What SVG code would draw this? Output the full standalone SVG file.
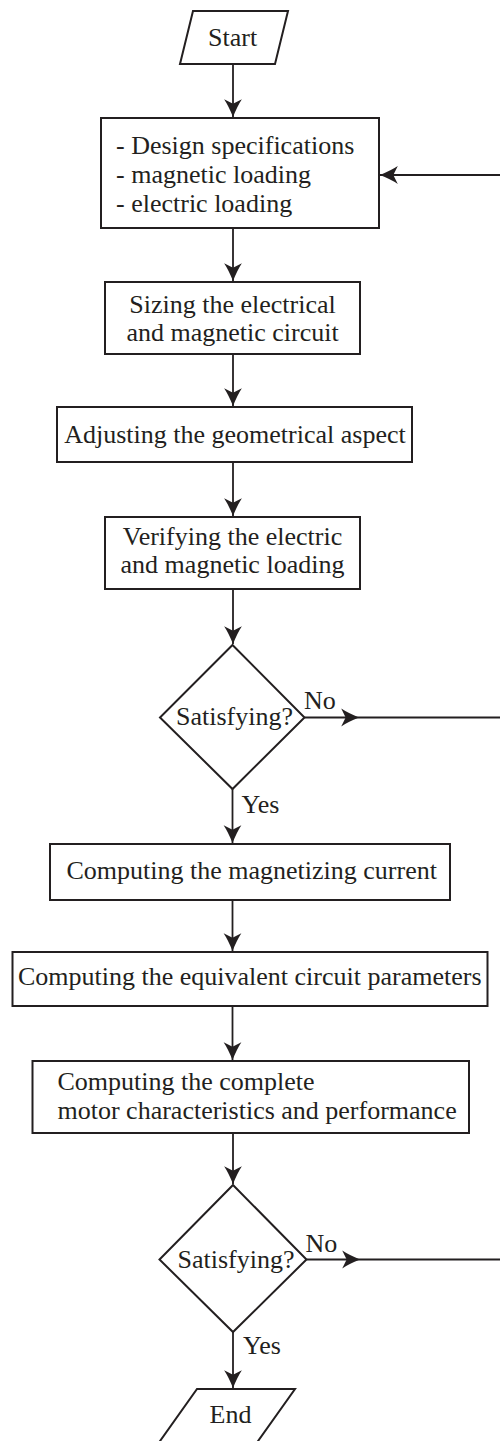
<svg xmlns="http://www.w3.org/2000/svg" width="500" height="1441" viewBox="0 0 500 1441">
<defs>
<style>
.sh{fill:#fff;stroke:#231f20;stroke-width:2}
.ln{fill:none;stroke:#231f20;stroke-width:1.8}
.t{font-family:"Liberation Serif","Times New Roman",serif;font-size:26px;fill:#231f20}
.c{text-anchor:middle}
</style>
<marker id="ah" markerUnits="userSpaceOnUse" markerWidth="20" markerHeight="20" viewBox="0 -9 17 18" refX="16" refY="0" orient="auto">
<path d="M0,-8 Q6,-4 16,0 Q6,4 0,8 L4,0 Z" fill="#231f20"/>
</marker>
</defs>
<rect width="500" height="1441" fill="#fff"/>
<g id="connectors">
<path class="ln" d="M233,64 V117" marker-end="url(#ah)"/>
<path class="ln" d="M233,228 V281" marker-end="url(#ah)"/>
<path class="ln" d="M233,354 V406" marker-end="url(#ah)"/>
<path class="ln" d="M233,462 V516" marker-end="url(#ah)"/>
<path class="ln" d="M233,589 V644" marker-end="url(#ah)"/>
<path class="ln" d="M232.5,789 V843" marker-end="url(#ah)"/>
<path class="ln" d="M304.5,717.5 H359" marker-end="url(#ah)"/>
<path class="ln" d="M359,717.5 H500"/>
<path class="ln" d="M500,175 H380" marker-end="url(#ah)"/>
<path class="ln" d="M232.5,900 V951" marker-end="url(#ah)"/>
<path class="ln" d="M232.5,1006 V1060" marker-end="url(#ah)"/>
<path class="ln" d="M233,1133 V1184" marker-end="url(#ah)"/>
<path class="ln" d="M306.5,1259.5 H360" marker-end="url(#ah)"/>
<path class="ln" d="M360,1259.5 H500"/>
<path class="ln" d="M233,1332 V1388" marker-end="url(#ah)"/>
</g>
<g id="start">
<polygon class="sh" points="193,11 288,11 275,64 180,64"/>
<text class="t" x="208" y="45.5">Start</text>
</g>
<g id="specs">
<rect class="sh" x="101" y="118" width="278" height="110"/>
<text class="t" x="116" y="154">- Design specifications</text>
<text class="t" x="116" y="183">- magnetic loading</text>
<text class="t" x="116" y="212">- electric loading</text>
</g>
<g id="sizing">
<rect class="sh" x="105" y="282" width="255" height="72"/>
<text class="t c" x="232.5" y="313">Sizing the electrical</text>
<text class="t c" x="232.5" y="341">and magnetic circuit</text>
</g>
<g id="adjust">
<rect class="sh" x="57" y="407" width="355" height="55"/>
<text class="t c" x="235" y="442.5">Adjusting the geometrical aspect</text>
</g>
<g id="verify">
<rect class="sh" x="105" y="517" width="255" height="72"/>
<text class="t c" x="232.5" y="545">Verifying the electric</text>
<text class="t c" x="232.5" y="573">and magnetic loading</text>
</g>
<g id="decision1">
<polygon class="sh" points="232.5,645 304.5,717.5 232.5,789 160,717.5"/>
<text class="t" x="176" y="725">Satisfying?</text>
<text class="t" x="304" y="709">No</text>
<text class="t" x="241.5" y="812.5">Yes</text>
</g>
<g id="magnetizing">
<rect class="sh" x="50" y="844" width="400" height="56"/>
<text class="t" x="66.5" y="878.5">Computing the magnetizing current</text>
</g>
<g id="equivalent">
<rect class="sh" x="12.5" y="952" width="475" height="54"/>
<text class="t" x="18" y="985">Computing the equivalent circuit parameters</text>
</g>
<g id="performance">
<rect class="sh" x="32.5" y="1061" width="436.5" height="72"/>
<text class="t" x="57.5" y="1089.5">Computing the complete</text>
<text class="t" x="57.5" y="1118.5">motor characteristics and performance</text>
</g>
<g id="decision2">
<polygon class="sh" points="233,1185 306.5,1259.5 233,1332 159.5,1259.5"/>
<text class="t" x="177.5" y="1268">Satisfying?</text>
<text class="t" x="305.5" y="1251.5">No</text>
<text class="t" x="243" y="1354">Yes</text>
</g>
<g id="end">
<polygon class="sh" points="197,1389 295,1389 241,1465 143,1465"/>
<text class="t" x="209.5" y="1422.5">End</text>
</g>
</svg>
